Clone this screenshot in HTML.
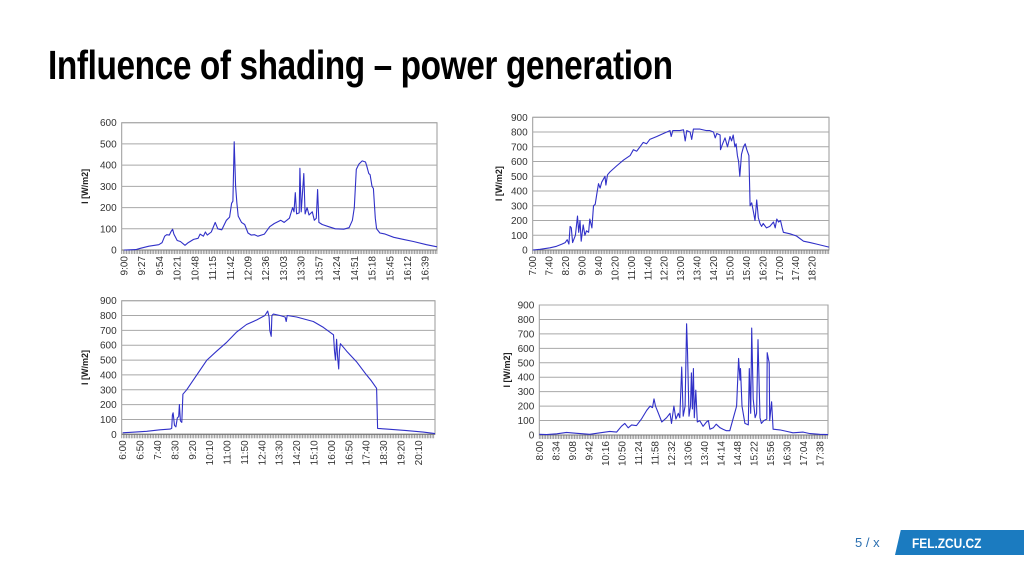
<!DOCTYPE html>
<html><head><meta charset="utf-8"><style>
html,body{margin:0;padding:0;background:#fff;}
body{width:1024px;height:574px;position:relative;overflow:hidden;font-family:"Liberation Sans",sans-serif;}
#title{position:absolute;left:48px;top:42px;font-size:41px;font-weight:bold;color:#000;white-space:nowrap;transform-origin:0 0;transform:scaleX(0.815);letter-spacing:-0.5px;}
#footer-bar{position:absolute;left:895px;top:530px;width:140px;height:25px;background:#1b7bc0;transform:skewX(-13deg);transform-origin:0 100%;}
#footer-text{position:absolute;left:912px;top:535px;font-size:14px;font-weight:bold;color:#fff;transform:scaleX(0.85);transform-origin:0 0;}
#page-num{position:absolute;left:855px;top:535px;font-size:13px;color:#2a6fb0;}
svg{position:absolute;left:0;top:0;}
</style></head><body>
<div id="title">Influence of shading – power generation</div>
<div id="page-num">5 / x</div>
<div id="footer-bar"></div>
<div id="footer-text">FEL.ZCU.CZ</div>
<svg id="charts" width="1024" height="574"></svg>
<script>
// Chart 1 (top-left): minutes after 9:00
const c1Labels=["9:00","9:27","9:54","10:21","10:48","11:15","11:42","12:09","12:36","13:03","13:30","13:57","14:24","14:51","15:18","15:45","16:12","16:39"];
const c1Yticks=[0,100,200,300,400,500,600];
const c1Times=[0,18,25,38,53,58,62,65,69,72,74,76,81,86,93,98,106,113,116,121,124,127,133,139,143,149,156,161,164,166,168,170,172,174,179,184,189,194,199,204,214,222,229,239,244,252,257,259,261,263,267,268,270,274,276,279,282,287,290,293,295,297,302,312,322,335,343,348,351,354,358,363,368,370,373,375,378,380,383,385,390,398,411,426,441,461,477];
const c1Values=[0,2,8,18,25,35,65,72,70,88,98,75,45,40,22,35,50,55,75,65,85,70,85,130,100,95,140,155,220,230,510,300,220,160,130,120,80,70,72,65,75,110,125,140,130,150,200,180,270,170,175,385,180,360,170,200,165,180,140,150,285,130,120,110,100,98,105,140,200,380,405,420,415,395,360,355,300,290,150,100,80,75,60,50,40,25,15];
// Chart 2 (top-right): minutes after 7:00
const c2Labels=["7:00","7:40","8:20","9:00","9:40","10:20","11:00","11:40","12:20","13:00","13:40","14:20","15:00","15:40","16:20","17:00","17:40","18:20"];
const c2Yticks=[0,100,200,300,400,500,600,700,800,900];
const c2Times=[0,18,42,58,71,79,84,88,91,94,97,104,109,112,115,118,123,127,131,136,139,144,148,152,156,160,164,168,172,176,178,182,188,204,221,237,245,253,261,269,277,285,302,318,334,337,341,358,367,371,375,383,387,391,407,423,431,440,444,448,456,457,462,468,474,480,484,488,492,495,498,501,504,508,513,517,521,526,529,533,537,541,545,549,553,557,561,569,577,586,590,594,598,603,607,610,626,642,659,675,691,721];
const c2Values=[0,5,15,25,40,50,70,40,160,150,50,100,230,120,200,60,170,100,130,120,210,150,300,310,380,450,420,460,480,500,440,510,530,570,610,640,680,670,700,730,720,750,770,790,810,770,810,810,815,740,810,800,750,820,820,810,810,800,760,790,780,680,720,760,700,770,740,780,700,720,640,600,500,650,700,720,680,640,300,320,260,200,340,220,180,160,180,150,160,190,150,210,190,200,150,120,110,95,60,50,40,20];
// Chart 3 (bottom-left): minutes after 6:00
const c3Labels=["6:00","6:50","7:40","8:30","9:20","10:10","11:00","11:50","12:40","13:30","14:20","15:10","16:00","16:50","17:40","18:30","19:20","20:10"];
const c3Yticks=[0,100,200,300,400,500,600,700,800,900];
const c3Times=[0,69,107,136,141,143,145,149,153,157,161,163,166,170,173,184,213,242,270,299,328,356,385,409,417,421,423,427,429,433,452,467,470,473,500,548,577,606,609,612,615,618,621,623,626,644,672,701,715,730,733,759,816,864,898];
const c3Values=[10,20,30,35,40,130,145,60,50,110,120,200,90,80,270,300,400,500,560,620,690,740,770,800,830,790,700,660,800,810,800,790,760,800,790,760,720,670,560,500,640,520,440,560,610,560,490,400,360,310,40,35,25,15,5];
// Chart 4 (bottom-right): minutes after 8:00
const c4Labels=["8:00","8:34","9:08","9:42","10:16","10:50","11:24","11:58","12:32","13:06","13:40","14:14","14:48","15:22","15:56","16:30","17:04","17:38"];
const c4Yticks=[0,100,200,300,400,500,600,700,800,900];
const c4Times=[0,15,36,56,77,104,125,145,159,169,176,183,190,200,210,221,228,233,236,239,245,252,262,269,272,277,281,286,289,293,296,300,303,305,308,311,313,315,317,319,322,325,330,337,344,348,351,358,364,372,378,385,392,406,410,413,414,417,423,430,432,435,437,440,444,447,450,454,457,462,468,469,473,474,478,481,495,509,522,543,557,577,594];
const c4Values=[5,3,8,18,12,5,15,25,20,60,80,50,70,65,110,170,200,190,250,200,150,90,120,150,80,200,110,150,120,470,130,200,770,580,130,200,430,180,460,120,310,90,100,60,90,100,40,50,75,50,40,30,30,200,530,380,460,200,80,70,460,150,740,250,120,150,660,120,80,100,110,570,500,100,230,40,35,25,15,20,10,5,3];

const NS="http://www.w3.org/2000/svg";
const svg=document.getElementById('charts');
function mk(tag,attrs,parent){const e=document.createElementNS(NS,tag);for(const k in attrs)e.setAttribute(k,attrs[k]);(parent||svg).appendChild(e);return e;}

function chart(id,box,ymax,labels,labelStep,tmax,yticks,times,values){
  const g=mk('g',{});
  
  
  const L=box.l,R=box.r,T=box.t,B=box.b;
  const xs=t=>box.x0+(t/tmax)*(R-box.x0);
  const ys=v=>B-(v/ymax)*(B-T);
  mk('rect',{x:L,y:T,width:R-L,height:B-T,fill:'#fff',stroke:'#9a9a9a','stroke-width':1},g);
  yticks.forEach(v=>{
    const gl=mk('line',{x1:L,x2:R,y1:ys(v),y2:ys(v),stroke:'#a8a8a8','stroke-width':1},g);
    
    
    const tx=mk('text',{x:L-5,y:ys(v)+3.5,'text-anchor':'end','font-size':10,fill:'#333'},g);
    tx.textContent=v;
    
    
  });
  for(let x=L;x<=R;x+=1.6){mk('line',{x1:x,x2:x,y1:B,y2:B+4,stroke:'#888','stroke-width':0.8},g);}
  mk('line',{x1:L,x2:R,y1:B,y2:B,stroke:'#777','stroke-width':1},g);
  labels.forEach((lab,i)=>{
    const x=xs(i*labelStep);
    const tx=mk('text',{x:0,y:0,'text-anchor':'end','font-size':10,fill:'#333',transform:`translate(${x+3.5},${B+6}) rotate(-90)`},g);
    tx.textContent=lab;
    
    
  });
  const yt=mk('text',{x:0,y:0,'text-anchor':'middle','font-size':9,'font-weight':'bold',fill:'#222',transform:`translate(${box.yt},${(T+B)/2}) rotate(-90)`},g);
  yt.textContent='I [W/m2]';
  
  
  const pts=times.map((t,i)=>xs(t).toFixed(1)+','+ys(values[i]).toFixed(1)).join(' ');
  const pl=mk('polyline',{points:pts,fill:'none',stroke:'#3030c8','stroke-width':1.1,'stroke-linejoin':'round'},g);
  
  
}
chart('chart-top-left',{l:121.7,r:437,t:122.7,b:250,x0:124,yt:88},600,c1Labels,27,477,c1Yticks,c1Times,c1Values);
chart('chart-top-right',{l:532.7,r:829,t:117.3,b:250,x0:532.7,yt:502},900,c2Labels,40,721,c2Yticks,c2Times,c2Values);
chart('chart-bottom-left',{l:121.7,r:435,t:300.7,b:434.3,x0:122.7,yt:88},900,c3Labels,50,898,c3Yticks,c3Times,c3Values);
chart('chart-bottom-right',{l:539.3,r:828,t:305,b:435,x0:539.3,yt:510},900,c4Labels,34,594,c4Yticks,c4Times,c4Values);
</script>
</body></html>
